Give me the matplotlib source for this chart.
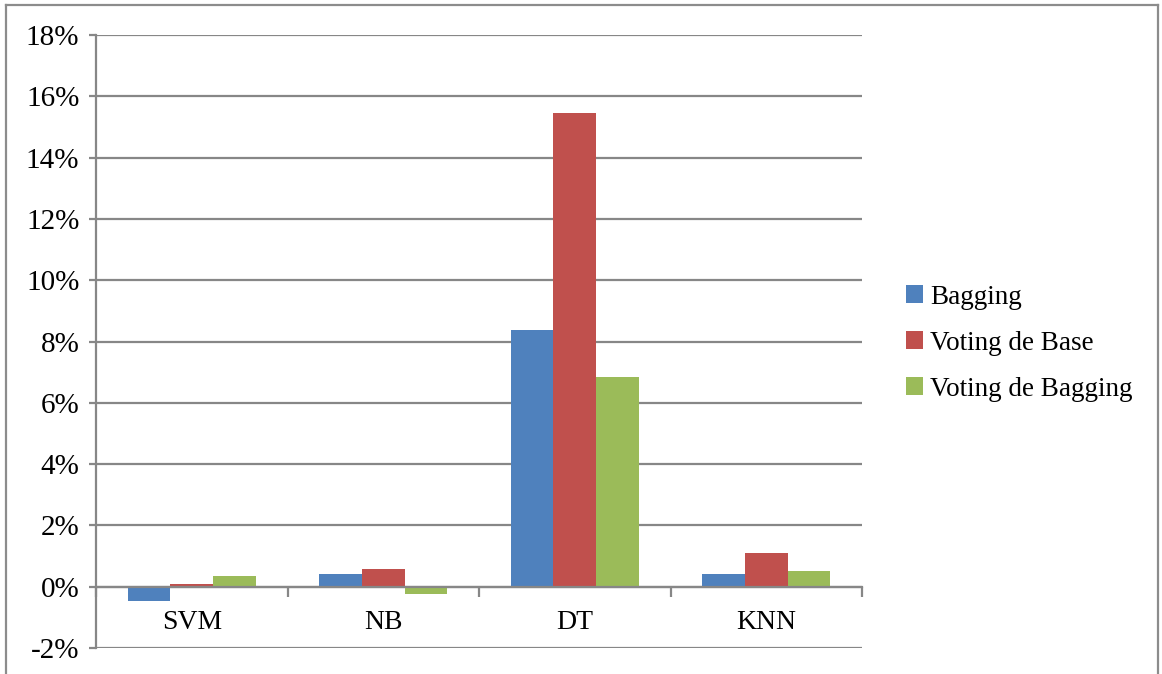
import matplotlib
matplotlib.use("Agg")
import matplotlib.pyplot as plt
from matplotlib.lines import Line2D
from matplotlib.ticker import FuncFormatter, FixedLocator
import numpy as np

plt.rcParams['font.family'] = ['Liberation Serif', 'DejaVu Serif']

# 数据
categories = ["SVM", "NB", "DT", "KNN"]
series_names = ["Bagging", "Voting de Base", "Voting de Bagging"]
bagging = [-0.47, 0.41, 8.37, 0.41]
voting_base = [0.09, 0.57, 15.45, 1.10]
voting_bagging = [0.35, -0.25, 6.84, 0.51]
colors = ["#4F81BD", "#C0504D", "#9BBB59"]
grid_color = "#878787"

fig = plt.figure(figsize=(11.62, 6.74), dpi=100)
ax = fig.add_axes([96 / 1162, 1 - 648 / 674, (862 - 96) / 1162, (648 - 35) / 674])

x = np.arange(len(categories))
w = 1 / 4.5
for i, (vals, name) in enumerate(zip([bagging, voting_base, voting_bagging], series_names)):
    ax.bar(x + (i - 1) * w, vals, width=w, color=colors[i], label=name, zorder=3)

ax.set_xlim(-0.5, len(categories) - 0.5)
ax.set_ylim(-2, 18)
ax.set_yticks(np.arange(-2, 19, 2))
ax.yaxis.set_major_formatter(FuncFormatter(lambda v, p: f"{v:.0f}%"))
ax.yaxis.grid(True, color=grid_color, linewidth=1.6, zorder=0)
ax.tick_params(axis='y', length=5, width=1.6, color=grid_color, pad=7, labelsize=21)

# x 轴在 0 处
ax.spines['bottom'].set_position(('data', 0))
ax.spines['bottom'].set_color(grid_color)
ax.spines['bottom'].set_linewidth(1.6)
ax.spines['bottom'].set_zorder(4)
ax.spines['left'].set_color(grid_color)
ax.spines['left'].set_linewidth(1.6)
ax.spines['top'].set_visible(False)
ax.spines['right'].set_visible(False)

ax.xaxis.set_major_locator(FixedLocator(np.arange(-0.5, len(categories), 1)))
ax.xaxis.set_minor_locator(FixedLocator(x))
ax.set_xticklabels([])
ax.set_xticklabels(categories, minor=True)
ax.tick_params(axis='x', which='major', length=7, width=1.6, color=grid_color, direction='out')
ax.tick_params(axis='x', which='minor', length=0, pad=17, labelsize=20)

leg = ax.legend(loc='center left', bbox_to_anchor=(1.025, 0.497), frameon=False,
                fontsize=19.5, handlelength=0.65, handleheight=0.65, handletextpad=0.25,
                labelspacing=0.78)

# 外框
for xs, ys in [([6, 6], [0, 669]), ([6, 1158], [669, 669]), ([1158, 1158], [669, 0])]:
    fig.add_artist(Line2D([v / 1162 for v in xs], [v / 674 for v in ys],
                          color="#8c8c8c", linewidth=1.6))

fig.savefig("out.png", dpi=100)
